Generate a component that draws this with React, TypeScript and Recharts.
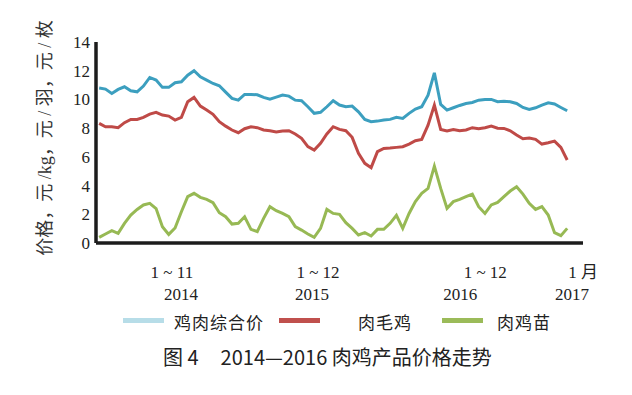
import React from 'react';
import { LineChart, Line, XAxis, YAxis } from 'recharts';

// week index from Jan 2014 (every two weeks)
const weeks = [
  1, 3, 5, 7, 9, 11, 13, 15, 17, 19, 21, 23, 25, 27, 29, 31, 33, 35, 37, 39,
  41, 43, 45, 47, 49, 51, 53, 55, 57, 59, 61, 63, 65, 67, 69, 71, 73, 75,
  77, 79, 81, 83, 85, 87, 89, 91, 93, 95, 97, 99, 101, 103, 105, 107, 109, 111, 113,
  115, 117, 119, 121, 123, 125, 127, 129, 131, 133, 135, 137, 139, 141, 143, 145, 147, 149,
];

// 鸡肉综合价
const compositePrice = [
  10.79, 10.72, 10.42, 10.7, 10.88, 10.6, 10.53, 10.93, 11.53, 11.35, 10.84, 10.84, 11.16, 11.23, 11.69, 12.0, 11.58, 11.35, 11.11, 10.95,
  10.51, 10.07, 9.95, 10.35, 10.35, 10.32, 10.14, 10.02, 10.16, 10.3, 10.23, 9.95, 9.91, 9.49, 9.03, 9.1, 9.49, 9.91,
  9.61, 9.49, 9.54, 9.14, 8.61, 8.45, 8.49, 8.56, 8.61, 8.75, 8.68, 9.03, 9.33, 9.49, 10.3, 11.85, 9.65, 9.26, 9.42,
  9.58, 9.72, 9.79, 9.95, 10.0, 10.0, 9.84, 9.88, 9.84, 9.72, 9.44, 9.3, 9.42, 9.61, 9.77, 9.68, 9.44, 9.21,
];

// 肉毛鸡
const broilerPrice = [
  8.33, 8.1, 8.1, 8.03, 8.38, 8.61, 8.61, 8.75, 8.98, 9.1, 8.91, 8.84, 8.56, 8.75, 9.84, 10.14, 9.54, 9.26, 8.96, 8.45,
  8.14, 7.87, 7.68, 7.96, 8.1, 8.03, 7.87, 7.82, 7.73, 7.8, 7.82, 7.59, 7.29, 6.71, 6.47, 6.94, 7.59, 8.1,
  7.91, 7.82, 7.36, 6.24, 5.55, 5.25, 6.36, 6.59, 6.61, 6.66, 6.71, 6.89, 7.12, 7.22, 8.21, 9.6, 7.91, 7.8, 7.91,
  7.82, 7.87, 8.03, 7.96, 8.03, 8.14, 8.0, 7.98, 7.82, 7.52, 7.26, 7.31, 7.22, 6.89, 6.98, 7.1, 6.66, 5.78,
];

// 肉鸡苗
const chickPrice = [
  0.39, 0.63, 0.86, 0.67, 1.37, 1.95, 2.34, 2.65, 2.76, 2.4, 1.14, 0.6, 1.05, 2.18, 3.23, 3.46, 3.18, 3.04, 2.81, 2.11,
  1.83, 1.32, 1.37, 1.83, 0.95, 0.79, 1.72, 2.53, 2.25, 2.06, 1.83, 1.14, 0.9, 0.63, 0.39, 1.02, 2.34, 2.06,
  2.0, 1.42, 1.02, 0.56, 0.72, 0.49, 0.95, 0.95, 1.37, 1.93, 1.02, 2.06, 2.88, 3.46, 3.8, 5.35, 3.8, 2.41, 2.88,
  3.04, 3.23, 3.41, 2.53, 2.06, 2.65, 2.83, 3.23, 3.62, 3.92, 3.41, 2.76, 2.34, 2.53, 1.95, 0.72, 0.51, 1.02,
];

const periodBounds = [47.8, 97.8, 146.2, 150.6];
const labelWeeks = [24.0, 70.2, 123.1, 154];
const monthLabels = ['1 ~ 11', '1 ~ 12', '1 ~ 12', '1 月'];
const yearLabels = ['2014', '2015', '2016', '2017'];
const yTicks = [0, 2, 4, 6, 8, 10, 12, 14];

const seriesNames = ['鸡肉综合价', '肉毛鸡', '肉鸡苗'];

const data = weeks.map((week, i) => ({
  week,
  composite: compositePrice[i],
  broiler: broilerPrice[i],
  chick: chickPrice[i],
}));

const SERIF = '"Liberation Serif", "Times New Roman", "Noto Sans CJK SC", serif';
const SANS = '"Noto Sans CJK SC", "Noto Sans", sans-serif';
const AXIS = '#1c1c1c';

const yearShift = [9, -6, -25, -11];

const PeriodTick = (props: any) => {
  const { x, y, index } = props;
  return (
    <g fontFamily={SERIF} fontSize={17} fill="#222">
      <text x={x} y={y + 25} textAnchor="middle">{monthLabels[index]}</text>
      <text x={x + yearShift[index]} y={y + 47} textAnchor="middle">{yearLabels[index]}</text>
    </g>
  );
};

const YTitle = () => (
  <text
    x={45}
    y={138}
    transform="rotate(-90 45 138)"
    textAnchor="middle"
    dominantBaseline="central"
    fontFamily={SERIF}
    fontSize={18}
    fill="#333"
  >
    价格，元 /kg，元 / 羽，元 / 枚
  </text>
);

const legendItems = [
  { name: seriesNames[0], color: '#b7dde8', swatch: 123, text: 174 },
  { name: seriesNames[1], color: '#c0504d', swatch: 279, text: 358 },
  { name: seriesNames[2], color: '#9bbb59', swatch: 442, text: 497 },
];

export default function App() {
  return (
    <div style={{ position: 'absolute', left: 0, top: 0, width: 632, height: 395, background: '#fff' }}>
      <LineChart width={632} height={320} data={data} margin={{ top: 42, right: 49, left: 0, bottom: 7 }}>
        <XAxis
          xAxisId="bounds"
          dataKey="week"
          type="number"
          domain={[0, 154]}
          ticks={periodBounds}
          interval={0}
          tick={false}
          height={10}
          tickSize={12}
          axisLine={{ stroke: AXIS, strokeWidth: 3.5 }}
          tickLine={{ stroke: AXIS, strokeWidth: 4 }}
        />
        <XAxis
          xAxisId="labels"
          dataKey="week"
          type="number"
          domain={[0, 154]}
          ticks={labelWeeks}
          interval={0}
          height={60}
          tickSize={0}
          tickMargin={0}
          axisLine={false}
          tickLine={false}
          tick={<PeriodTick />}
        />
        <YAxis
          domain={[0, 14]}
          ticks={yTicks}
          width={96}
          tickLine={false}
          tickMargin={0}
          axisLine={{ stroke: AXIS, strokeWidth: 3.5 }}
          tick={{ fontFamily: SERIF, fontSize: 17, fill: '#222' }}
          label={<YTitle />}
        />
        <Line xAxisId="bounds" type="linear" dataKey="composite" name={seriesNames[0]} stroke="#3c9fbf" strokeWidth={3} dot={false} isAnimationActive={false} />
        <Line xAxisId="bounds" type="linear" dataKey="broiler" name={seriesNames[1]} stroke="#bf4a47" strokeWidth={3} dot={false} isAnimationActive={false} />
        <Line xAxisId="bounds" type="linear" dataKey="chick" name={seriesNames[2]} stroke="#97b954" strokeWidth={3} dot={false} isAnimationActive={false} />
      </LineChart>
      {legendItems.map((item) => (
        <React.Fragment key={item.name}>
          <div style={{ position: 'absolute', left: item.swatch, top: 318, width: 41, height: 5, background: item.color }} />
          <div style={{ position: 'absolute', left: item.text, top: 310, fontFamily: SANS, fontSize: 17, letterSpacing: 1, lineHeight: '24px', color: '#222', whiteSpace: 'nowrap' }}>
            {item.name}
          </div>
        </React.Fragment>
      ))}
      <div style={{ position: 'absolute', left: 163, top: 345, fontFamily: SANS, fontSize: 20, lineHeight: '24px', color: '#222', whiteSpace: 'nowrap' }}>
        <span>图 4</span>
        <span style={{ marginLeft: 22 }}>2014—2016 肉鸡产品价格走势</span>
      </div>
    </div>
  );
}
